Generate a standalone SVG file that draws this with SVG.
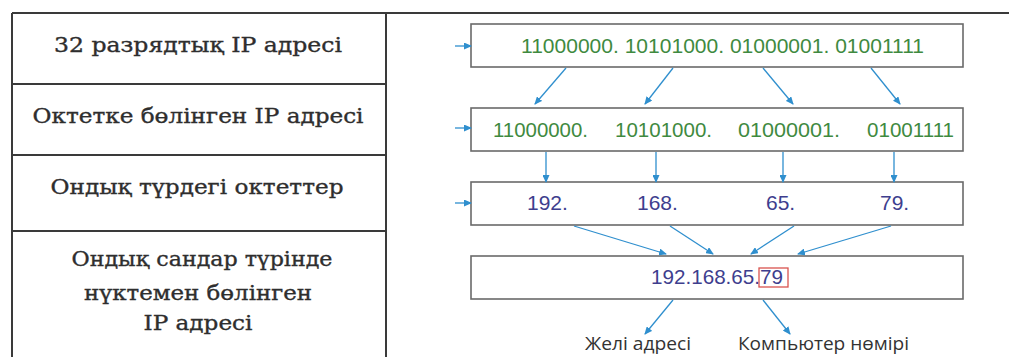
<svg xmlns="http://www.w3.org/2000/svg" width="1009" height="357" viewBox="0 0 1009 357">
  <style>
    .grid { stroke: #3a3a3a; stroke-width: 2; fill: none; }
    .label { font-family: "DejaVu Serif", "Liberation Serif", serif; font-size: 20px; fill: #2e2e2e; stroke: #2e2e2e; stroke-width: 0.35; text-anchor: middle; }
    .box { fill: #fff; stroke: #6a6a6a; stroke-width: 1.6; }
    .bin { font-family: "Liberation Sans", Arial, sans-serif; font-size: 21px; fill: #3f8a3f; }
    .dec { font-family: "Liberation Sans", Arial, sans-serif; font-size: 21px; fill: #3e3e8e; }
    .cap { font-family: "Open Sans", "Noto Sans", sans-serif; font-size: 18px; fill: #333; }
    .arr { stroke: #2f8fce; stroke-width: 1.3; fill: none; marker-end: url(#head); }
  </style>
  <defs>
    <marker id="head" markerUnits="userSpaceOnUse" markerWidth="8" markerHeight="7" refX="7" refY="3.5" orient="auto">
      <path d="M0,0 L8,3.5 L0,7 Z" fill="#2f8fce"/>
    </marker>
  </defs>

  <!-- left table with row captions -->
  <g id="table">
    <path class="grid" d="M12,13 H1009 M12,13 V357 M386,13 V357 M12,84 H386 M12,155 H386 M12,231 H386"/>
  </g>
  <g id="row-32bit">
    <text class="label" x="198" y="52" textLength="288" lengthAdjust="spacingAndGlyphs">32 разрядтық IP адресі</text>
  </g>
  <g id="row-octets">
    <text class="label" x="198" y="123" textLength="331" lengthAdjust="spacingAndGlyphs">Октетке бөлінген IP адресі</text>
  </g>
  <g id="row-decimal">
    <text class="label" x="197" y="194" textLength="293" lengthAdjust="spacingAndGlyphs">Ондық түрдегі октеттер</text>
  </g>
  <g id="row-dotted">
    <text class="label" x="202" y="266" textLength="261" lengthAdjust="spacingAndGlyphs">Ондық сандар түрінде</text>
    <text class="label" x="198" y="300" textLength="228" lengthAdjust="spacingAndGlyphs">нүктемен бөлінген</text>
    <text class="label" x="198" y="330" textLength="109" lengthAdjust="spacingAndGlyphs">IP адресі</text>
  </g>

  <!-- right column: conversion steps -->
  <g id="box-binary">
    <rect class="box" x="471" y="24" width="492" height="43"/>
    <text class="bin" x="521" y="53" textLength="403" lengthAdjust="spacingAndGlyphs">11000000. 10101000. 01000001. 01001111</text>
  </g>
  <g id="box-split">
    <rect class="box" x="471" y="108" width="492" height="43"/>
    <text class="bin" x="493" y="137" textLength="95" lengthAdjust="spacingAndGlyphs">11000000.</text>
    <text class="bin" x="615" y="137" textLength="97" lengthAdjust="spacingAndGlyphs">10101000.</text>
    <text class="bin" x="738" y="137" textLength="102" lengthAdjust="spacingAndGlyphs">01000001.</text>
    <text class="bin" x="867" y="137" textLength="87" lengthAdjust="spacingAndGlyphs">01001111</text>
  </g>
  <g id="box-decimal">
    <rect class="box" x="471" y="182" width="492" height="43"/>
    <text class="dec" x="527" y="210">192.</text>
    <text class="dec" x="637" y="210">168.</text>
    <text class="dec" x="766" y="210">65.</text>
    <text class="dec" x="880" y="210">79.</text>
  </g>
  <g id="box-dotted">
    <rect class="box" x="471" y="256" width="492" height="43"/>
    <text class="dec" x="651" y="284" textLength="132" lengthAdjust="spacingAndGlyphs">192.168.65.79</text>
    <rect x="759" y="268" width="29" height="19" fill="none" stroke="#d9534f" stroke-width="1.3"/>
  </g>
  <g id="lbl-network">
    <text class="cap" x="585" y="350" textLength="106" lengthAdjust="spacingAndGlyphs">Желі адресі</text>
  </g>
  <g id="lbl-host">
    <text class="cap" x="738" y="350" textLength="171" lengthAdjust="spacingAndGlyphs">Компьютер нөмірі</text>
  </g>

  <g id="connectors">
    <!-- row entry arrows -->
    <line class="arr" x1="455" y1="46" x2="471" y2="46"/>
    <line class="arr" x1="455" y1="128" x2="471" y2="128"/>
    <line class="arr" x1="455" y1="203" x2="471" y2="203"/>
    <!-- binary string to octets -->
    <line class="arr" x1="566" y1="68" x2="535" y2="104"/>
    <line class="arr" x1="673" y1="68" x2="645" y2="104"/>
    <line class="arr" x1="763" y1="68" x2="793" y2="104"/>
    <line class="arr" x1="871" y1="68" x2="900" y2="104"/>
    <!-- octets to decimal -->
    <line class="arr" x1="546" y1="152" x2="546" y2="182"/>
    <line class="arr" x1="656" y1="152" x2="656" y2="182"/>
    <line class="arr" x1="783" y1="152" x2="783" y2="182"/>
    <line class="arr" x1="894" y1="152" x2="894" y2="182"/>
    <!-- decimal to dotted address -->
    <line class="arr" x1="574" y1="226" x2="666" y2="254"/>
    <line class="arr" x1="670" y1="226" x2="713" y2="254"/>
    <line class="arr" x1="794" y1="226" x2="751" y2="254"/>
    <line class="arr" x1="891" y1="226" x2="798" y2="254"/>
    <!-- address parts -->
    <line class="arr" x1="673" y1="300" x2="645" y2="334"/>
    <line class="arr" x1="763" y1="300" x2="790" y2="334"/>
  </g>
</svg>
